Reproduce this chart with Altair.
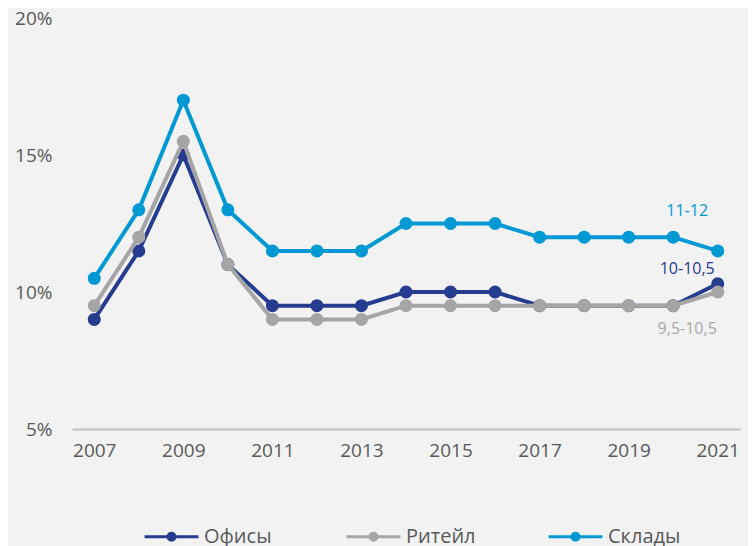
import altair as alt
import pandas as pd

years = list(range(2007, 2022))
series_names = ["Офисы", "Ритейл", "Склады"]
ofisy = [9, 11.5, 15, 11, 9.5, 9.5, 9.5, 10, 10, 10, 9.5, 9.5, 9.5, 9.5, 10.3]
riteil = [9.5, 12, 15.5, 11, 9, 9, 9, 9.5, 9.5, 9.5, 9.5, 9.5, 9.5, 9.5, 10]
sklady = [10.5, 13, 17, 13, 11.5, 11.5, 11.5, 12.5, 12.5, 12.5, 12, 12, 12, 12, 11.5]
colors = ["#253C8F", "#A5A5A5", "#0099D4"]

ann_text = ["11-12", "10-10,5", "9,5-10,5"]
ann_year = [2020, 2020, 2020]
ann_value = [12.95, 10.84, 8.65]
ann_color = ["#0099D4", "#253C8F", "#AAAAAA"]

x_ticks = list(range(2007, 2022, 2))
y_ticks = [5, 10, 15, 20]

rows = []
for name, vals in zip(series_names, [ofisy, riteil, sklady]):
    for y, v in zip(years, vals):
        rows.append({"year": y, "value": v, "series": name})
df = pd.DataFrame(rows)
ann = pd.DataFrame({"text": ann_text, "year": ann_year, "value": ann_value, "c": ann_color})

FONT = "Open Sans"
TXT = "#595959"

xs = alt.Scale(type="point", padding=0.5, domain=years)
ys = alt.Scale(domain=[5, 20], nice=False, zero=False)
cs = alt.Scale(domain=series_names, range=colors)

legend = alt.Legend(
    title=None, orient="none", direction="horizontal", legendX=71, legendY=490,
    symbolType="M-1,0H1M-0.13,0a0.13,0.13 0 1,0 0.26,0a0.13,0.13 0 1,0 -0.26,0",
    symbolSize=2900, symbolStrokeWidth=3, labelFont=FONT, labelFontSize=20,
    labelColor=TXT, gridAlign="all", columnPadding=63, labelOffset=4,
)

layers = []
for i, name in enumerate(series_names):
    base = alt.Chart(df).transform_filter(alt.datum.series == name)
    enc = dict(
        x=alt.X("year:O", scale=xs, title=None,
                axis=alt.Axis(values=x_ticks, labelAngle=0, ticks=False, domainColor="#BFBFBF",
                              domainWidth=2, labelPadding=12, labelFont=FONT, labelFontSize=19,
                              labelColor=TXT, grid=False)),
        y=alt.Y("value:Q", scale=ys, title=None,
                axis=alt.Axis(values=y_ticks, labelExpr="datum.value + '%'", domain=False, ticks=False,
                              grid=False, labelPadding=20, labelFont=FONT, labelFontSize=19,
                              labelColor=TXT)),
        color=alt.Color("series:N", scale=cs, legend=legend),
    )
    layers.append(base.mark_line(strokeWidth=4).encode(**enc))
    layers.append(base.mark_circle(size=170, opacity=1).encode(**enc))

text = alt.Chart(ann).mark_text(font=FONT, fontSize=16, dx=14).encode(
    x=alt.X("year:O", scale=xs),
    y=alt.Y("value:Q", scale=ys),
    text="text:N",
    color=alt.Color("c:N", scale=None),
)

chart = alt.layer(*layers, text).properties(
    width=668, height=411,
    autosize=alt.AutoSizeParams(type="none"),
    padding={"left": 64, "top": 10, "right": 8, "bottom": 120},
    background="#F2F2F2",
).configure_view(stroke=None)

chart.save("out.html", embed_options={"renderer": "svg", "actions": False})
